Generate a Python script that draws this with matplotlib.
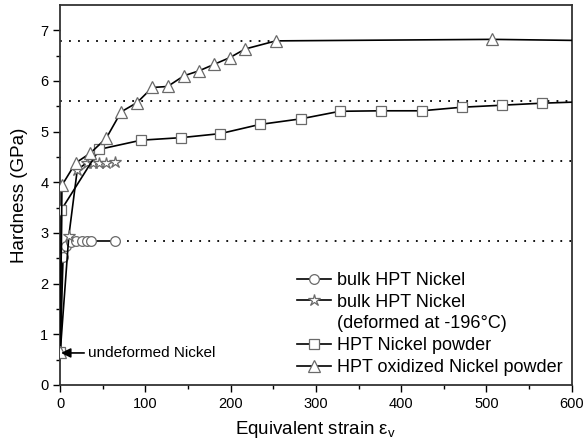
import numpy as np
from matplotlib import pyplot as plt

plt.rcParams['font.family'] = ['Liberation Sans', 'DejaVu Sans']
plt.rcParams['mathtext.fontset'] = 'custom'
plt.rcParams['mathtext.rm'] = 'Liberation Sans'
plt.rcParams['mathtext.it'] = 'Liberation Sans'

# datos
bulk_x = [0, 3.3, 7, 13, 19, 25, 31, 36, 64]
bulk_y = [0.65, 2.52, 2.75, 2.82, 2.83, 2.83, 2.84, 2.84, 2.84]

cryo_x = [0, 10, 20, 31, 38, 46, 54, 64]
cryo_y = [0.65, 2.93, 4.25, 4.38, 4.38, 4.37, 4.38, 4.40]

powder_x = [0, 1.4, 46, 95, 142, 188, 234, 282, 328, 376, 424, 471, 518, 565, 600]
powder_y = [0.65, 3.46, 4.65, 4.83, 4.88, 4.96, 5.14, 5.25, 5.40, 5.41, 5.41,
            5.48, 5.52, 5.56, 5.58]

oxid_x = [0, 2, 18, 35, 54, 71.5, 90, 108, 126, 145, 163, 181, 199, 217, 253,
          507, 600]
oxid_y = [0.65, 3.94, 4.38, 4.57, 4.87, 5.39, 5.57, 5.87, 5.89, 6.10, 6.20,
          6.33, 6.46, 6.63, 6.79, 6.82, 6.80]

# niveles de saturacion (lineas punteadas): (y, x inicio, x fin)
sat_levels = [(6.78, 0, 253), (5.61, 0, 600), (4.42, 68, 600), (2.84, 68, 600)]

labels = ['bulk HPT Nickel', 'bulk HPT Nickel', '(deformed at -196°C)',
          'HPT Nickel powder', 'HPT oxidized Nickel powder']

fig = plt.figure(figsize=(5.85, 4.47), dpi=100)
ax = fig.add_axes([0.103, 0.139, 0.874, 0.85])

for y, x0, x1 in sat_levels:
  ax.plot([x0, x1], [y, y], color='black', linewidth=1.3,
          linestyle=(0, (1, 4)), zorder=1)

mk = dict(color='black', linewidth=1.2, markerfacecolor='white',
          markeredgecolor='#6a6a6a', markeredgewidth=0.9, zorder=3)
ax.plot(bulk_x, bulk_y, marker='o', markersize=7, label=labels[0], **mk)
ax.plot(cryo_x, cryo_y, marker='*', markersize=9, label=labels[1], **mk)
# segunda linea del texto de la leyenda, sin simbolo
ax.plot([], [], color='none', label=labels[2])
ax.plot(powder_x, powder_y, marker='s', markersize=6.5,
        markevery=list(range(len(powder_x) - 1)), label=labels[3], **mk)
ax.plot(oxid_x, oxid_y, marker='^', markersize=8,
        markevery=list(range(len(oxid_x) - 1)), label=labels[4], **mk)

ax.annotate('undeformed Nickel', xy=(1, 0.63), xytext=(33, 0.63),
            fontsize=11, va='center',
            arrowprops=dict(arrowstyle='-|>', color='black', lw=1.2,
                            mutation_scale=14, shrinkA=1, shrinkB=0))

ax.set_xlim(0, 600)
ax.set_ylim(0, 7.5)
ax.set_xticks(np.arange(0, 601, 100))
ax.set_xticks(np.arange(50, 600, 100), minor=True)
ax.set_yticks(np.arange(0, 8, 1))
ax.set_yticks(np.arange(0.5, 7.5, 1), minor=True)
ax.tick_params(which='both', direction='out', top=False, right=False,
               labelsize=10.5, width=1.0)
ax.tick_params(which='major', length=5)
ax.tick_params(which='minor', length=3)
for s in ax.spines.values():
  s.set_linewidth(1.3)
  s.set_color('#333333')

ax.set_xlabel(r'Equivalent strain ε$_{\rm v}$', fontsize=13.5, labelpad=6)
ax.set_ylabel('Hardness (GPa)', fontsize=13.5, labelpad=9)

leg = ax.legend(loc='lower right', frameon=False, fontsize=13, handlelength=1.9,
                handletextpad=0.3, labelspacing=0.26, borderaxespad=0.1)

plt.savefig('out.png', dpi=100)
